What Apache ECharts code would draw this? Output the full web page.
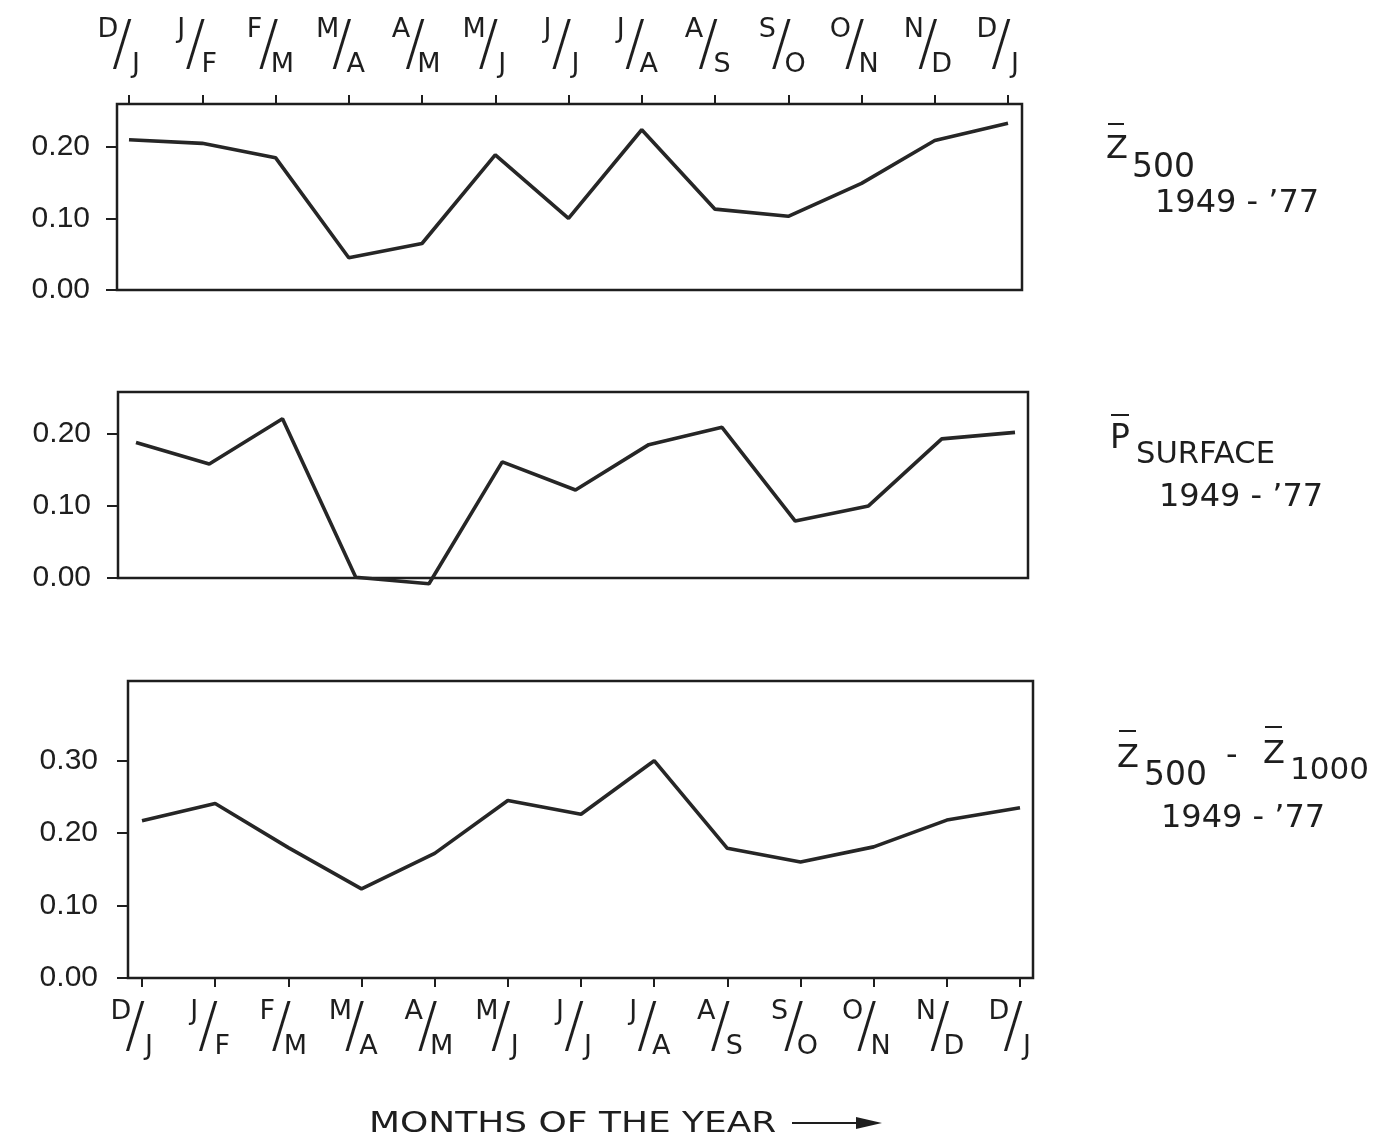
<!DOCTYPE html>
<html>
<head>
<meta charset="utf-8">
<script src="https://cdn.jsdelivr.net/npm/echarts@6/dist/echarts.min.js"></script>
<style>
  html, body { margin: 0; padding: 0; background: #ffffff; }
  #chart { width: 1377px; height: 1138px; }
</style>
</head>
<body>
<div id="chart"></div>
<script>
// ---------- data ----------
const monthTop    = ['D','J','F','M','A','M','J','J','A','S','O','N','D'];
const monthBottom = ['J','F','M','A','M','J','J','A','S','O','N','D','J'];

// Z500 1949-'77
const z500 = [0.210, 0.205, 0.185, 0.045, 0.065, 0.189, 0.100, 0.224, 0.113, 0.103, 0.149, 0.209, 0.233];
// P surface 1949-'77
const pSurface = [0.188, 0.158, 0.221, 0.001, -0.008, 0.161, 0.122, 0.185, 0.209, 0.079, 0.100, 0.193, 0.202];
// Z500 - Z1000 1949-'77
const thickness = [0.217, 0.241, 0.180, 0.123, 0.172, 0.245, 0.226, 0.300, 0.179, 0.160, 0.181, 0.218, 0.235];

const yTicksA = [0, 0.1, 0.2];
const yTicksB = [0, 0.1, 0.2, 0.3];

// ---------- styling / layout ----------
const FONT = 'DejaVu Sans';
const NUMFONT = 'Liberation Sans';
const INK = '#1e1e1e';
const idx = monthTop.map((_, i) => i);

const panels = [
  { left: 117, top: 104, width: 905, height: 186, dataL: 129, dataR: 1008, yMax: 0.26, ticks: yTicksA, data: z500, xPos: 'top', showX: true, labelMargin: 27 },
  { left: 118, top: 392, width: 910, height: 186, dataL: 136, dataR: 1015, yMax: 0.258, ticks: yTicksA, data: pSurface, xPos: 'bottom', showX: false, labelMargin: 27 },
  { left: 128, top: 681, width: 905, height: 297, dataL: 142, dataR: 1020, yMax: 0.41, ticks: yTicksB, data: thickness, xPos: 'bottom', showX: true, labelMargin: 30 }
];

const monthRich = {
  t: { fontSize: 27, fontFamily: FONT, color: INK, verticalAlign: 'top', lineHeight: 27, width: 14, align: 'right' },
  s: { fontSize: 60, fontFamily: FONT, color: INK, fontWeight: 200, verticalAlign: 'middle', lineHeight: 62, width: 14, align: 'center' },
  b: { fontSize: 27, fontFamily: FONT, color: INK, verticalAlign: 'bottom', lineHeight: 27, width: 14, align: 'left' }
};
const monthFormatter = v => {
  const i = Math.round(v);
  return '{t|' + monthTop[i] + '}{s|/}{b|' + monthBottom[i] + '}';
};

const grid = [], xAxis = [], yAxis = [], series = [];
panels.forEach((p, k) => {
  const unit = (p.dataR - p.dataL) / 12;
  const xMin = -(p.dataL - p.left) / unit;
  const xMax = 12 + (p.left + p.width - p.dataR) / unit;
  grid.push({ left: p.left, top: p.top, width: p.width, height: p.height, show: true, borderColor: INK, borderWidth: 2.5, backgroundColor: 'transparent' });
  xAxis.push({
    type: 'value', gridIndex: k, min: xMin, max: xMax, position: p.xPos,
    axisLine: { show: false, onZero: false },
    splitLine: { show: false },
    axisTick: { show: p.showX, customValues: idx, length: 9, lineStyle: { color: INK, width: 2 } },
    axisLabel: { show: p.showX, customValues: idx, formatter: monthFormatter, rich: monthRich,
                 margin: p.xPos === 'top' ? 26 : 20, padding: [0, 14, 0, 0] }
  });
  yAxis.push({
    type: 'value', gridIndex: k, min: 0, max: p.yMax,
    axisLine: { show: false, onZero: false },
    splitLine: { show: false },
    axisTick: { show: true, customValues: p.ticks, length: 11, lineStyle: { color: INK, width: 2 } },
    axisLabel: { customValues: p.ticks, formatter: v => v.toFixed(2), fontSize: 30, fontFamily: NUMFONT, color: INK, margin: p.labelMargin }
  });
  series.push({
    type: 'line', xAxisIndex: k, yAxisIndex: k,
    data: p.data.map((v, i) => [i, v]),
    symbol: 'none', clip: false,
    lineStyle: { color: '#262626', width: 3.6 },
    z: 3
  });
});

function txt(x, y, text, size, extra) {
  return Object.assign({ type: 'text', x: x, y: y, style: { text: text, fontSize: size, fontFamily: FONT, fill: INK, verticalAlign: 'middle' } }, extra || {});
}
function bar(x1, x2, y) {
  return { type: 'line', shape: { x1: x1, y1: y, x2: x2, y2: y }, style: { stroke: INK, lineWidth: 2 } };
}

const graphic = [
  // panel 1 label: Z-bar 500
  txt(1106, 150, 'Z', 32),
  bar(1108, 1124, 124),
  txt(1132, 168, '500', 33),
  txt(1155, 204, '1949 - \u201977', 32),
  // panel 2 label: P-bar SURFACE
  txt(1110, 439, 'P', 33),
  bar(1111, 1129, 415),
  txt(1136, 455, 'SURFACE', 30, { scaleX: 1.02 }),
  txt(1159, 498, '1949 - \u201977', 32),
  // panel 3 label: Z-bar 500 - Z-bar 1000
  txt(1117, 759, 'Z', 32),
  bar(1119, 1136, 731),
  txt(1144, 776, '500', 33),
  txt(1226, 757, '-', 32),
  txt(1263, 755, 'Z', 32),
  bar(1265, 1282, 727),
  txt(1290, 771, '1000', 31),
  txt(1161, 819, '1949 - \u201977', 32),
  // x title
  txt(369, 1124, 'MONTHS OF THE YEAR', 29, { scaleX: 1.24 }),
  { type: 'line', shape: { x1: 792, y1: 1123, x2: 860, y2: 1123 }, style: { stroke: INK, lineWidth: 2 } },
  { type: 'polygon', shape: { points: [[856, 1117], [882, 1123], [856, 1129]] }, style: { fill: INK } }
];

const chart = echarts.init(document.getElementById('chart'), null, { renderer: 'canvas' });
chart.setOption({
  backgroundColor: '#ffffff',
  animation: false,
  grid, xAxis, yAxis, series, graphic
});
</script>
</body>
</html>
